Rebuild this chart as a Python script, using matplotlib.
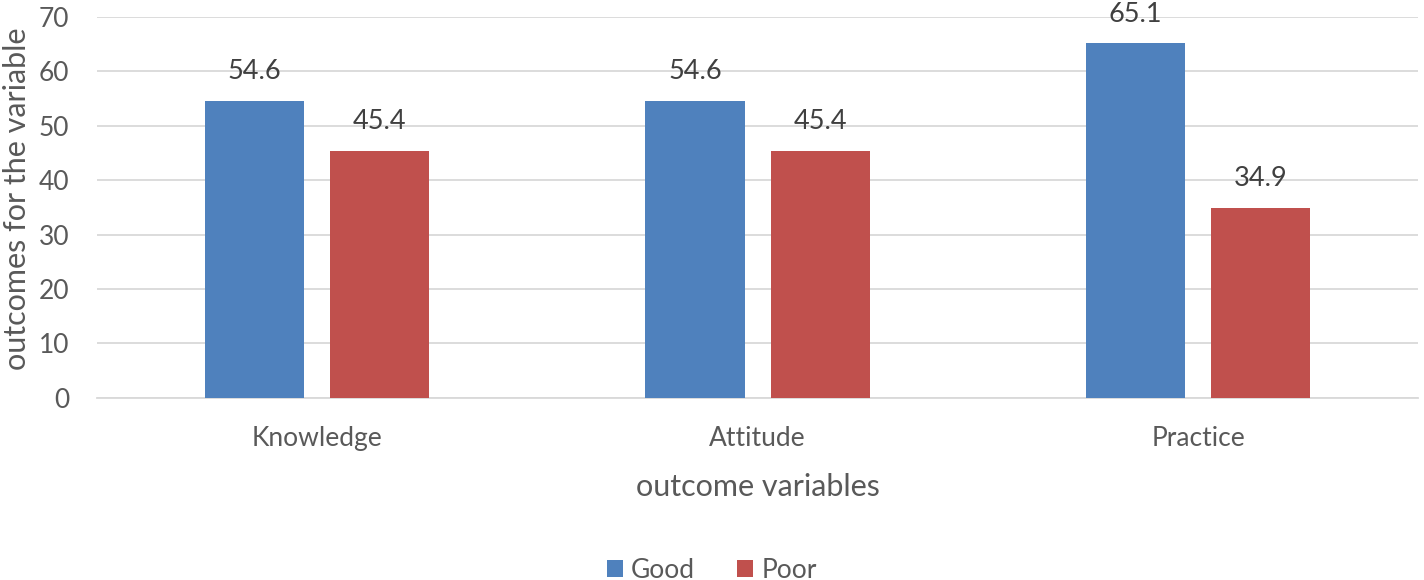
import matplotlib
matplotlib.use("Agg")
import matplotlib.pyplot as plt
import numpy as np

categories = ["Knowledge", "Attitude", "Practice"]
good = [54.6, 54.6, 65.1]
poor = [45.4, 45.4, 34.9]
series_names = ["Good", "Poor"]

plt.rcParams['font.family'] = ['Lato', 'DejaVu Sans']

fig = plt.figure(figsize=(14.24, 5.8), dpi=100)
ax = fig.add_axes([0.068, 0.314, 0.928, 0.657])

x = np.arange(len(categories))
w = 0.225
off = 0.142
b1 = ax.bar(x - off, good, w, color="#4F81BD", label=series_names[0], zorder=3)
b2 = ax.bar(x + off, poor, w, color="#C0504D", label=series_names[1], zorder=3)

for bars, vals in [(b1, good), (b2, poor)]:
    for r, v in zip(bars, vals):
        ax.annotate(f"{v}", (r.get_x() + r.get_width() / 2, v), xytext=(0, 12),
                    textcoords="offset points", ha="center", va="bottom",
                    fontsize=19.5, color="#404040")

ax.set_xlim(-0.5, 2.5)
ax.set_ylim(0, 70)
ax.set_yticks(range(0, 71, 10))
ax.set_xticks(x)
ax.set_xticklabels(categories)
ax.grid(axis="y", color="#D9D9D9", linewidth=1.3, zorder=0)
for s in ["top", "right", "left"]:
    ax.spines[s].set_visible(False)
ax.spines["bottom"].set_color("#D9D9D9")
ax.spines["bottom"].set_linewidth(1.3)
ax.tick_params(axis="both", length=0, labelsize=19, labelcolor="#595959")
ax.tick_params(axis="x", pad=20)
ax.tick_params(axis="y", pad=20)

ax.set_xlabel("outcome variables", fontsize=22, color="#595959", labelpad=16)
fig.text(0.012, 0.5 + 0.314 / 2 - 0.0, "outcomes for the variable", rotation=90,
         ha="center", va="center", fontsize=22, color="#595959")

fig.legend(handles=[b1, b2], loc="center", bbox_to_anchor=(0.5, 0.017), ncol=2,
           frameon=False, fontsize=19, handlelength=0.6, handleheight=0.6,
           columnspacing=1.6, handletextpad=0.3, labelcolor="#595959")

fig.savefig("out.png", dpi=100)
